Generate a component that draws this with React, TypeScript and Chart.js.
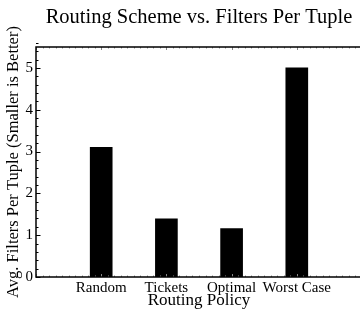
import { useEffect, useRef } from "react";
import { Chart, registerables } from "chart.js";

Chart.register(...registerables);

const categories = ["Random", "Tickets", "Optimal", "Worst Case"];
const filtersPerTuple = [3.1, 1.39, 1.16, 5.0];
const yTickValues = [0, 1, 2, 3, 4, 5];
const yMin = 0;
const yMax = 5.5;
const chartTitle = "Routing Scheme vs. Filters Per Tuple";
const xTitle = "Routing Policy";
const yTitle = "Avg. Filters Per Tuple (Smaller is Better)";

const FONT = "'Liberation Serif', 'Times New Roman', serif";

const framePlugin = {
  id: "frame",
  afterDatasetsDraw(chart: any) {
    const { ctx, chartArea: a, scales } = chart;
    const x = scales.x;
    const y = scales.y;
    ctx.save();
    // y minor / major ticks (inward)
    ctx.strokeStyle = "#000";
    ctx.lineWidth = 1;
    const ySteps = Math.round((yMax - yMin) / 0.2);
    for (let i = 0; i <= ySteps; i++) {
      const v = yMin + i * 0.2;
      const py = Math.round(y.getPixelForValue(v)) + 0.5;
      const major = i % 5 === 0;
      const len = major ? 4.5 : 2.5;
      ctx.beginPath();
      ctx.moveTo(a.left, py);
      ctx.lineTo(a.left + len, py);
      ctx.stroke();
    }
    // x minor ticks (inward, faint)
    ctx.strokeStyle = "#888";
    const nx = x.getLabels().length - 1;
    const xSteps = nx * 10;
    for (let i = 0; i <= xSteps; i++) {
      const v = i / 10;
      const px = Math.round(x.getPixelForValue(v)) + 0.5;
      const len = i % 10 === 0 ? 3 : 1.5;
      ctx.beginPath();
      ctx.moveTo(px, a.bottom);
      ctx.lineTo(px, a.bottom - len);
      ctx.moveTo(px, a.top);
      ctx.lineTo(px, a.top + len);
      ctx.stroke();
    }
    // frame
    ctx.strokeStyle = "#000";
    ctx.lineWidth = 1.5;
    ctx.beginPath();
    ctx.rect(a.left, a.top, a.right - a.left, a.bottom - a.top);
    ctx.stroke();
    ctx.restore();
  },
};

export default function App() {
  const ref = useRef<HTMLCanvasElement | null>(null);

  useEffect(() => {
    if (!ref.current) return;
    Chart.defaults.font.family = FONT;
    Chart.defaults.color = "#000";
    const labels = ["", ...categories, ""];
    const values = [null, ...filtersPerTuple, null];
    const chart = new Chart(ref.current, {
      type: "bar",
      data: {
        labels,
        datasets: [
          {
            data: values as any,
            backgroundColor: "#000",
            borderWidth: 0,
            barThickness: 22,
          },
        ],
      },
      options: {
        responsive: false,
        animation: false,
        layout: { padding: { left: 0, right: 8, top: 0, bottom: 0 } },
        plugins: {
          legend: { display: false },
          tooltip: { enabled: false },
          title: {
            display: true,
            text: chartTitle,
            color: "#000",
            font: { family: FONT, size: 20.5, weight: "normal" },
            padding: { top: 5, bottom: 17.4 },
            fullSize: false,
          } as any,
        },
        scales: {
          x: {
            type: "category",
            offset: false,
            grid: { display: false, drawTicks: false },
            border: { display: false },
            ticks: {
              color: "#000",
              font: { family: FONT, size: 15 },
              padding: 2,
              maxRotation: 0,
              autoSkip: false,
            },
            title: {
              display: true,
              text: xTitle,
              color: "#000",
              font: { family: FONT, size: 17 },
              padding: { top: 0, bottom: 2 },
            },
            afterFit: (s: any) => {
              s.height = 36;
            },
          },
          y: {
            min: yMin,
            max: yMax,
            grid: { display: false, drawTicks: false },
            border: { display: false },
            afterBuildTicks: (s: any) => {
              s.ticks = yTickValues.map((v) => ({ value: v }));
            },
            ticks: {
              color: "#000",
              font: { family: FONT, size: 15 },
              padding: 3,
            },
            title: {
              display: true,
              text: yTitle,
              color: "#000",
              font: { family: FONT, size: 16.5 },
              padding: { top: 4, bottom: 0 },
            },
            afterFit: (s: any) => {
              s.width = 36;
            },
          },
        },
      },
      plugins: [framePlugin],
    });
    return () => chart.destroy();
  }, []);

  return (
    <div
      style={{
        position: "fixed",
        left: 0,
        top: 0,
        width: 360,
        height: 313,
        overflow: "hidden",
        background: "#fff",
      }}
    >
      <canvas ref={ref} width={370} height={313} style={{ display: "block" }} />
    </div>
  );
}
